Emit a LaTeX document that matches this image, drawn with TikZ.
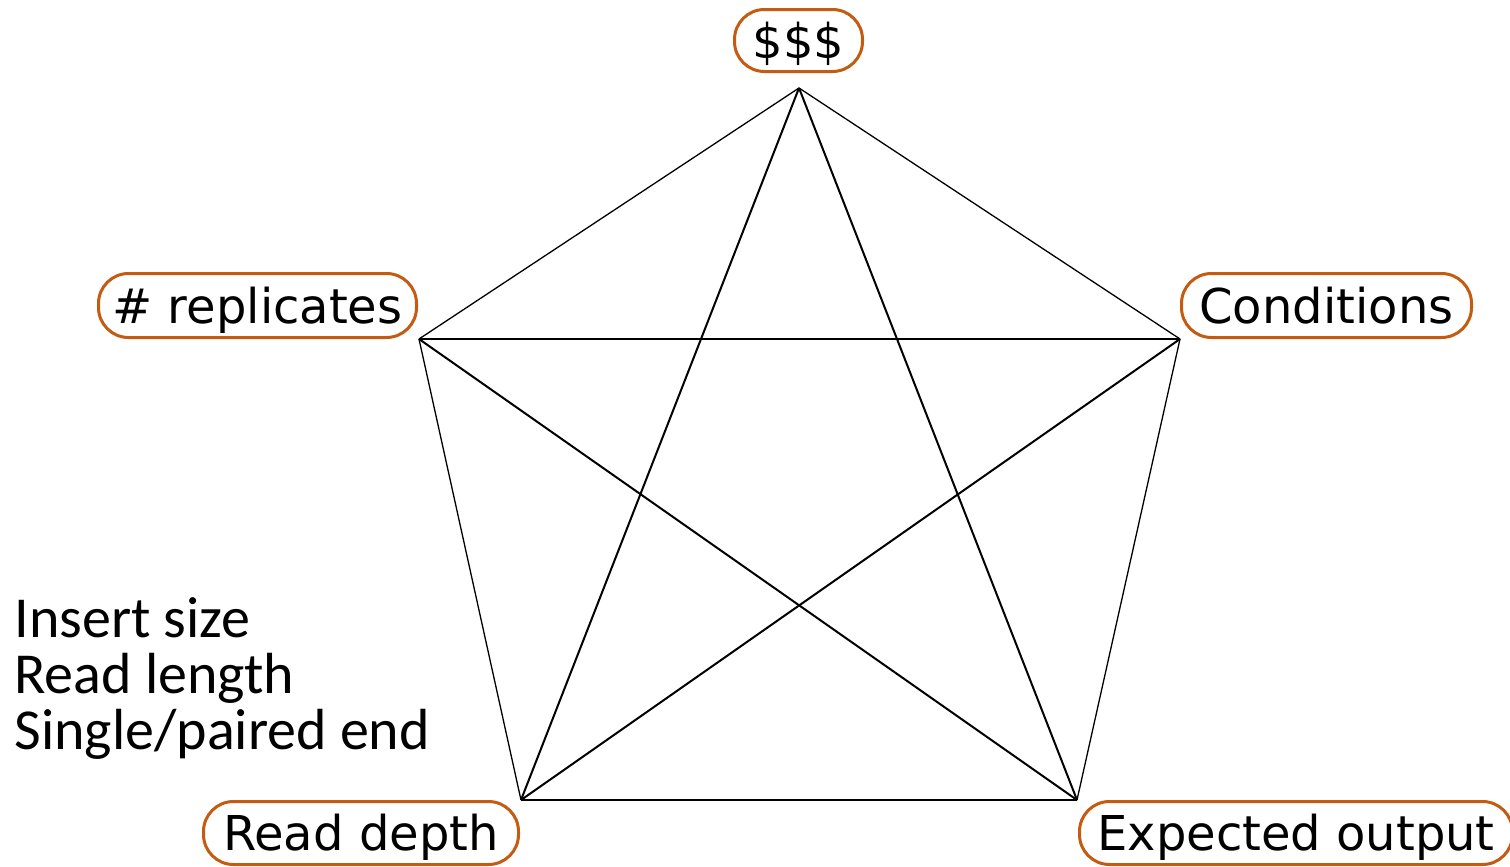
\documentclass[tikz,border=0pt]{standalone}
\usepackage{fontspec}
\setmainfont{DejaVu Sans}
\newfontfamily\calib{Carlito}
\definecolor{labcol}{RGB}{197,90,17}
\begin{document}
\begin{tikzpicture}[x=0.5pt,y=-0.5pt,
  lab/.style={draw=labcol, line width=1.5pt, rounded corners=15pt, inner sep=0pt, outer sep=0pt,
    font=\fontsize{24}{28}\selectfont, text height=17.5pt, text depth=0pt, align=center},
  side/.style={line width=0.65pt},
  diag/.style={line width=1pt},
  note/.style={anchor=base west, inner sep=0pt, font=\calib\fontsize{29}{34}\selectfont}]
\useasboundingbox (0,0) rectangle (1510,867);
% vertices
\coordinate (T) at (799,88);
\coordinate (L) at (419,339);
\coordinate (R) at (1180,339);
\coordinate (BL) at (521,800);
\coordinate (BR) at (1077,800);
% sides
\draw[side] (T) -- (R);
\draw[side] (R) -- (BR);
\draw[side] (BR) -- (BL);
\draw[side] (BL) -- (L);
\draw[side] (L) -- (T);
% diagonals
\draw[diag] (T) -- (BL);
\draw[diag] (T) -- (BR);
\draw[diag] (L) -- (R);
\draw[diag] (L) -- (BR);
\draw[diag] (R) -- (BL);
% labels
\node[lab, minimum width=64pt, minimum height=31pt] (cost) at (798.5,40.5) {\$\$\$};
\node[lab, minimum width=159pt, minimum height=32pt] (rep) at (257.5,305.5) {\# replicates};
\node[lab, minimum width=145pt, minimum height=32pt] (cond) at (1326.5,305.5) {Conditions};
\node[lab, minimum width=157.5pt, minimum height=31.5pt] (depth) at (361,833) {Read depth};
\node[lab, minimum width=216.5pt, minimum height=31.5pt] (out) at (1296,833) {Expected output};
% notes
\node[note] (n1) at (14,637) {Insert size};
\node[note] (n2) at (14,693) {Read length};
\node[note] (n3) at (14,749) {Single/paired end};
\end{tikzpicture}
\end{document}
